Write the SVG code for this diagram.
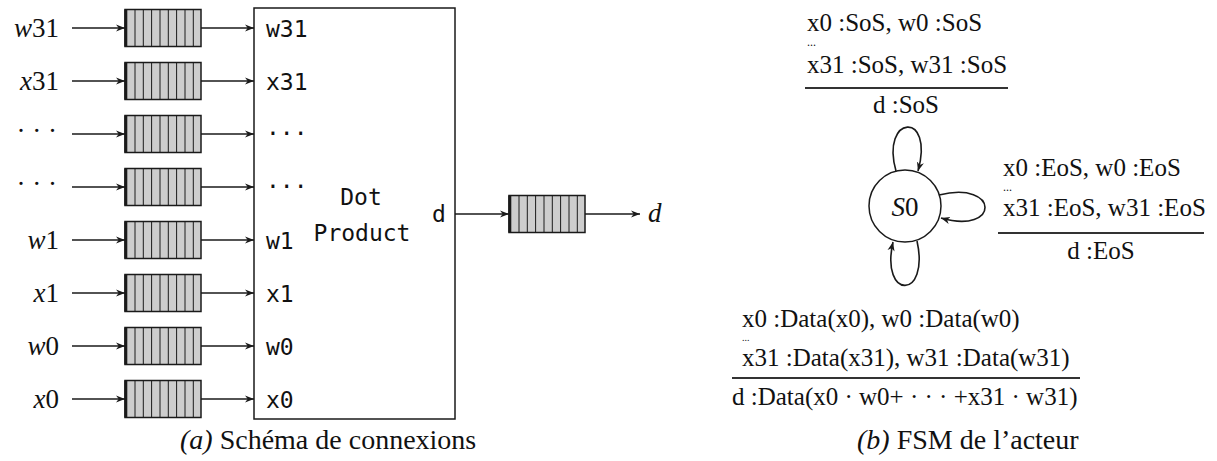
<svg xmlns="http://www.w3.org/2000/svg" xmlns:xlink="http://www.w3.org/1999/xlink" width="1217" height="461" viewBox="0 0 1217 461">
<style>
.bg{fill:#fff}
.ln{stroke:#1a1a1a;stroke-width:1.6;fill:none}
.qbox{fill:#cdcdcd;stroke:#1a1a1a;stroke-width:1.5}
.qline{stroke:#1a1a1a;stroke-width:1;fill:none}
.qedge{stroke:#1a1a1a;stroke-width:3}
.box{fill:#fff;stroke:#1a1a1a;stroke-width:1.5}
.mono{font-family:"DejaVu Sans Mono",monospace;font-size:23px;fill:#111}
.lab{font-family:"Liberation Serif",serif;font-size:27px;fill:#111}
.it{font-style:italic}
.tr{font-family:"Liberation Serif",serif;font-size:25px;fill:#111}
.dots{font-family:"Liberation Serif",serif;font-size:12px;fill:#111}
.rule{stroke:#333;stroke-width:1.8}
.cap{font-family:"Liberation Serif",serif;font-size:28px;fill:#111}
.state{fill:#fff;stroke:#1a1a1a;stroke-width:1.5}
</style>
<defs>
<marker id="arr" viewBox="0 0 10 10" refX="10" refY="5" markerWidth="9" markerHeight="9" markerUnits="userSpaceOnUse" orient="auto">
<path d="M0,1 L10,5 L0,9 L3,5 z" fill="#1a1a1a"/>
</marker>
<g id="q">
<rect x="0" y="0" width="76" height="37" class="qbox"/>
<path d="M10,0V37M18.3,0V37M26.6,0V37M35,0V37M43.3,0V37M51.6,0V37M60,0V37M68.3,0V37" class="qline"/>
<line x1="0.8" y1="0" x2="0.8" y2="37" class="qedge"/>
</g>
</defs>
<rect class="bg" x="0" y="0" width="1217" height="461"/>

<g id="inputs">
<text class="lab" x="59" y="37" text-anchor="end"><tspan class="it">w</tspan>31</text>
<text class="lab" x="59" y="90" text-anchor="end"><tspan class="it">x</tspan>31</text>
<text class="lab" x="57" y="140" text-anchor="end">· · ·</text>
<text class="lab" x="57" y="193" text-anchor="end">· · ·</text>
<text class="lab" x="59" y="249" text-anchor="end"><tspan class="it">w</tspan>1</text>
<text class="lab" x="59" y="302" text-anchor="end"><tspan class="it">x</tspan>1</text>
<text class="lab" x="59" y="355" text-anchor="end"><tspan class="it">w</tspan>0</text>
<text class="lab" x="59" y="408" text-anchor="end"><tspan class="it">x</tspan>0</text>
</g>

<g id="queue-w31"><use xlink:href="#q" href="#q" x="125" y="9.5"/></g>
<g id="queue-x31"><use xlink:href="#q" href="#q" x="125" y="62.5"/></g>
<g id="queue-dots1"><use xlink:href="#q" href="#q" x="125" y="115.5"/></g>
<g id="queue-dots2"><use xlink:href="#q" href="#q" x="125" y="168.5"/></g>
<g id="queue-w1"><use xlink:href="#q" href="#q" x="125" y="221.5"/></g>
<g id="queue-x1"><use xlink:href="#q" href="#q" x="125" y="274.5"/></g>
<g id="queue-w0"><use xlink:href="#q" href="#q" x="125" y="327.5"/></g>
<g id="queue-x0"><use xlink:href="#q" href="#q" x="125" y="380.5"/></g>

<g id="dotproduct">
<rect class="box" x="254" y="8" width="201" height="411"/>
<text class="mono" x="266" y="37">w31</text>
<text class="mono" x="266" y="90">x31</text>
<text class="mono" x="266" y="141">···</text>
<text class="mono" x="266" y="194">···</text>
<text class="mono" x="266" y="249">w1</text>
<text class="mono" x="266" y="302">x1</text>
<text class="mono" x="266" y="355">w0</text>
<text class="mono" x="266" y="408">x0</text>
<text class="mono" x="361" y="205" text-anchor="middle">Dot</text>
<text class="mono" x="362" y="241" text-anchor="middle">Product</text>
<text class="mono" x="432" y="222">d</text>
</g>

<g id="queue-d"><use xlink:href="#q" href="#q" x="509" y="195.5"/></g>
<g id="output-d"><text class="lab it" x="648" y="222">d</text></g>

<g id="connectors">
<g class="ln">
<line x1="72" y1="28" x2="125" y2="28" marker-end="url(#arr)"/>
<line x1="72" y1="81" x2="125" y2="81" marker-end="url(#arr)"/>
<line x1="72" y1="134" x2="125" y2="134" marker-end="url(#arr)"/>
<line x1="72" y1="187" x2="125" y2="187" marker-end="url(#arr)"/>
<line x1="72" y1="240" x2="125" y2="240" marker-end="url(#arr)"/>
<line x1="72" y1="293" x2="125" y2="293" marker-end="url(#arr)"/>
<line x1="72" y1="346" x2="125" y2="346" marker-end="url(#arr)"/>
<line x1="72" y1="399" x2="125" y2="399" marker-end="url(#arr)"/>
<line x1="201" y1="28" x2="254" y2="28" marker-end="url(#arr)"/>
<line x1="201" y1="81" x2="254" y2="81" marker-end="url(#arr)"/>
<line x1="201" y1="134" x2="254" y2="134" marker-end="url(#arr)"/>
<line x1="201" y1="187" x2="254" y2="187" marker-end="url(#arr)"/>
<line x1="201" y1="240" x2="254" y2="240" marker-end="url(#arr)"/>
<line x1="201" y1="293" x2="254" y2="293" marker-end="url(#arr)"/>
<line x1="201" y1="346" x2="254" y2="346" marker-end="url(#arr)"/>
<line x1="201" y1="399" x2="254" y2="399" marker-end="url(#arr)"/>
<line x1="455" y1="214" x2="509" y2="214" marker-end="url(#arr)"/>
<line x1="585" y1="214" x2="640" y2="214" marker-end="url(#arr)"/>
<path d="M896,171 C880,115 935,110 918,171" marker-end="url(#arr)"/>
<path d="M939,195 C1000,180 1000,235 941,218" marker-end="url(#arr)"/>
<path d="M917,241 C930,300 880,300 893,242" marker-end="url(#arr)"/>
</g>
</g>

<g id="state-S0">
<circle class="state" cx="905" cy="206" r="36"/>
<text class="lab" x="905" y="216" text-anchor="middle" style="font-size:27px"><tspan class="it">S</tspan>0</text>
</g>

<g id="label-sos">
<text class="tr" x="807" y="31">x0 :SoS, w0 :SoS</text>
<text class="dots" x="807" y="46">...</text>
<text class="tr" x="807" y="73">x31 :SoS, w31 :SoS</text>
<line class="rule" x1="805" y1="88" x2="1008" y2="88"/>
<text class="tr" x="906" y="113" text-anchor="middle">d :SoS</text>
</g>

<g id="label-eos">
<text class="tr" x="1003" y="176">x0 :EoS, w0 :EoS</text>
<text class="dots" x="1003" y="191">...</text>
<text class="tr" x="1003" y="216">x31 :EoS, w31 :EoS</text>
<line class="rule" x1="998" y1="233" x2="1204" y2="233"/>
<text class="tr" x="1101" y="259" text-anchor="middle">d :EoS</text>
</g>

<g id="label-data">
<text class="tr" x="742" y="327">x0 :Data(x0), w0 :Data(w0)</text>
<text class="dots" x="742" y="341" style="font-size:10px">...</text>
<text class="tr" x="742" y="366">x31 :Data(x31), w31 :Data(w31)</text>
<line class="rule" x1="732" y1="378" x2="1080" y2="378"/>
<text class="tr" x="732" y="405">d :Data(x0 · w0+ · · · +x31 · w31)</text>
</g>

<g id="captions">
<text class="cap" x="180" y="449"><tspan class="it">(a)</tspan> Schéma de connexions</text>
<text class="cap" x="857" y="449"><tspan class="it">(b)</tspan> FSM de l’acteur</text>
</g>
</svg>
